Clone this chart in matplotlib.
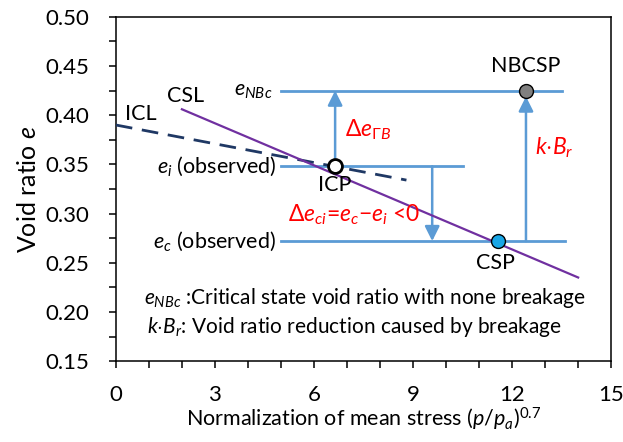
import matplotlib
matplotlib.use('Agg')
from matplotlib import pyplot as plt
from matplotlib.ticker import MultipleLocator, FormatStrFormatter

plt.rcParams['font.family'] = ['Lato', 'DejaVu Sans']
plt.rcParams['mathtext.fontset'] = 'custom'
plt.rcParams['mathtext.rm'] = 'Lato'
plt.rcParams['mathtext.it'] = 'Lato:italic'
plt.rcParams['mathtext.bf'] = 'Lato:bold'

# lineas ICL y CSL
icl_x = [0, 8.8]
icl_y = [0.390, 0.334]
csl_x = [2.0, 14.0]
csl_y = [0.406, 0.235]

# niveles de relacion de vacios
e_nbc = 0.425
e_i = 0.348
e_c = 0.272
nbc_x = [5.0, 13.5]
ei_x = [5.0, 10.5]
ec_x = [5.0, 13.6]

# puntos
icp = (6.64, 0.348)
csp = (11.58, 0.272)
nbcsp = (12.42, 0.425)
arrow_ci_x = 9.58

blue = '#5B9BD5'
purple = '#7030A0'
navy = '#1F3864'

fig = plt.figure(figsize=(6.23, 4.42), dpi=100)
ax = fig.add_axes([0.186, 0.183, 0.795, 0.779])

ax.plot(icl_x, icl_y, color=navy, lw=2.0, dashes=(6, 3.5), zorder=3)
ax.plot(csl_x, csl_y, color=purple, lw=1.6, zorder=3)

ax.plot(nbc_x, [e_nbc, e_nbc], color=blue, lw=2.0, zorder=2)
ax.plot(ei_x, [e_i, e_i], color=blue, lw=2.0, zorder=2)
ax.plot(ec_x, [e_c, e_c], color=blue, lw=2.0, zorder=2)

arr = dict(arrowstyle='-|>', color=blue, lw=1.8, mutation_scale=22, shrinkA=0, shrinkB=0)
ax.annotate('', xy=(icp[0], e_nbc), xytext=(icp[0], e_i), arrowprops=arr, zorder=2)
ax.annotate('', xy=(arrow_ci_x, e_c), xytext=(arrow_ci_x, e_i), arrowprops=arr, zorder=2)
ax.annotate('', xy=(nbcsp[0], e_nbc - 0.006), xytext=(nbcsp[0], e_c), arrowprops=arr, zorder=2)

ax.plot(*icp, 'o', ms=10, mfc='white', mec='black', mew=2.0, zorder=5)
ax.plot(*csp, 'o', ms=10, mfc='#19A6E6', mec='black', mew=1.0, zorder=5)
ax.plot(*nbcsp, 'o', ms=10, mfc='#808080', mec='black', mew=1.0, zorder=5)

fs = 15.5
rfs = 16.5
ax.text(2.1, 0.419, 'CSL', fontsize=fs, ha='center', va='center')
ax.text(0.75, 0.401, 'ICL', fontsize=fs, ha='center', va='center')
ax.text(4.75, 0.425, r'$e_{NBc}$', fontsize=fs, ha='right', va='center')
ax.text(4.85, 0.348, r'$e_i$ (observed)', fontsize=fs, ha='right', va='center')
ax.text(4.85, 0.272, r'$e_c$ (observed)', fontsize=fs, ha='right', va='center')
ax.text(6.64, 0.329, 'ICP', fontsize=fs, ha='center', va='center')
ax.text(11.5, 0.250, 'CSP', fontsize=fs, ha='center', va='center')
ax.text(12.4, 0.450, 'NBCSP', fontsize=fs, ha='center', va='center')
ax.text(6.95, 0.385, r'$\Delta e_{\Gamma B}$', fontsize=rfs, color='red', ha='left', va='center')
ax.text(5.2, 0.299, r'$\Delta e_{ci}$=$e_c$$-$$e_i$ <0', fontsize=rfs, color='red',
        ha='left', va='center')
ax.text(12.7, 0.367, r'$k{\cdot}B_r$', fontsize=rfs, color='red', ha='left', va='center')
ax.text(0.85, 0.214, r'$e_{NBc}$ :Critical state void ratio with none breakage',
        fontsize=15, ha='left', va='center')
ax.text(0.95, 0.185, r'$k{\cdot}B_r$: Void ratio reduction caused by breakage',
        fontsize=15, ha='left', va='center')

ax.set_xlim(0, 15)
ax.set_ylim(0.15, 0.50)
ax.xaxis.set_major_locator(MultipleLocator(3))
ax.xaxis.set_minor_locator(MultipleLocator(1))
ax.yaxis.set_major_locator(MultipleLocator(0.05))
ax.yaxis.set_minor_locator(MultipleLocator(0.025))
ax.yaxis.set_major_formatter(FormatStrFormatter('%.2f'))
ax.tick_params(which='both', direction='out', length=5, width=1.1, labelsize=16)
ax.tick_params(axis='y', pad=14)
ax.tick_params(axis='x', pad=12)
for s in ax.spines.values():
    s.set_linewidth(1.1)

ax.set_xlabel(r'Normalization of mean stress ($p$/$p_a$)$^{0.7}$', fontsize=15.5, labelpad=1)
ax.set_ylabel(r'Void ratio $e$', fontsize=18, labelpad=4)

fig.savefig('out.png', dpi=100)
